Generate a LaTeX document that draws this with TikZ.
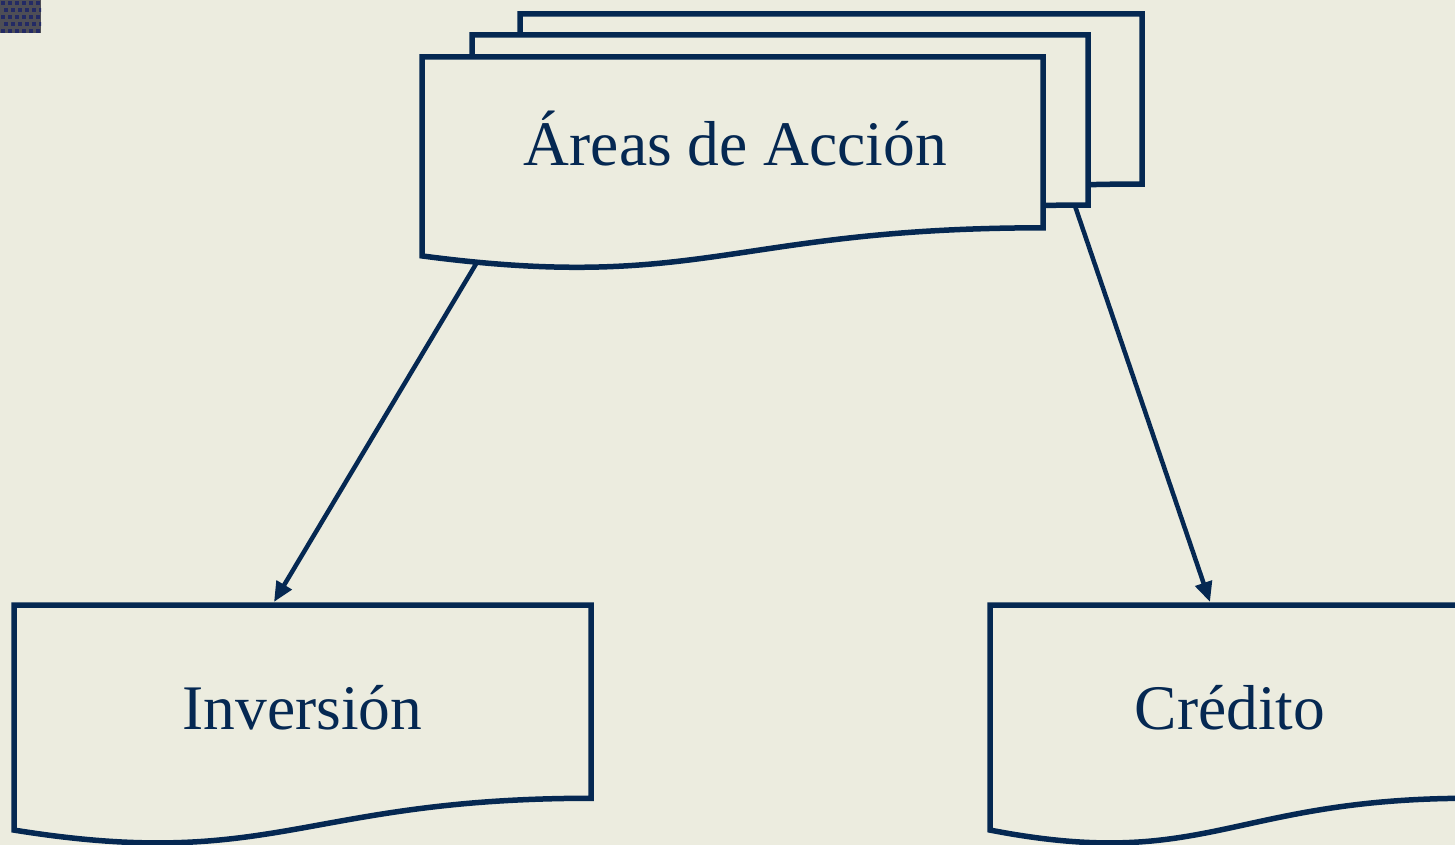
\documentclass[tikz,border=0pt]{standalone}
\usepackage{fontspec}
\setmainfont{Liberation Serif}
\usetikzlibrary{arrows.meta}
\definecolor{bgc}{RGB}{236,236,223}
\definecolor{navy}{RGB}{5,40,82}
\definecolor{cornergray}{RGB}{78,78,86}
\definecolor{cornerdot}{RGB}{35,42,100}
\tikzset{
  docline/.style={draw=navy, line width=5.5pt, fill=bgc, line join=miter},
  conn/.style={draw=navy, line width=4.5pt, -{Triangle[length=20pt,width=17pt]}},
  label/.style={text=navy, font=\fontsize{63.5}{76}\selectfont, anchor=base, inner sep=0pt}
}
\newcommand\mydocshape[4]{%
  \path[docline] (#1,#2) -- ({#1+#3},#2) -- ({#1+#3},{#2+0.80194*#4})
    .. controls ({#1+0.5*#3},{#2+0.80194*#4}) and ({#1+0.45*#3},{#2+1.1075*#4}) ..
    (#1,{#2+0.93389*#4}) -- cycle;}
\begin{document}
\begin{tikzpicture}[x=1pt,y=-1pt]
\useasboundingbox (0,0) rectangle (1455,845);
\fill[bgc] (0,0) rectangle (1455,845);
% corner square
\begin{scope}
\clip (0,0) rectangle (41,33);
\fill[cornergray] (0,0) rectangle (41,33);
\foreach \i in {0,...,6}{\foreach \j in {0,...,5}{
  \fill[cornerdot] ({1+7*\i+mod(\j,2)*3},{1+7*\j}) rectangle ++(4,4);}}
\end{scope}
% stacked documents
\mydocshape{520}{14}{622}{212}
\mydocshape{472}{35}{616}{212}
\mydocshape{422}{57}{621}{213}
\node[label] (areas) at (735.5,166) {Áreas de Acción};
% bottom documents
\mydocshape{14}{605}{577}{241}
\node[label] (inv) at (302.5,729) {Inversión};
\mydocshape{990}{605}{480}{241}
\node[label] (cred) at (1230,729) {Crédito};
% connectors
\coordinate (areasL) at (476,264);
\coordinate (areasR) at (1075,206);
\coordinate (invTop) at (274,602);
\coordinate (credTop) at (1210,602);
\draw[conn] (areasL) -- (invTop);
\draw[conn] (areasR) -- (credTop);
\end{tikzpicture}
\end{document}
